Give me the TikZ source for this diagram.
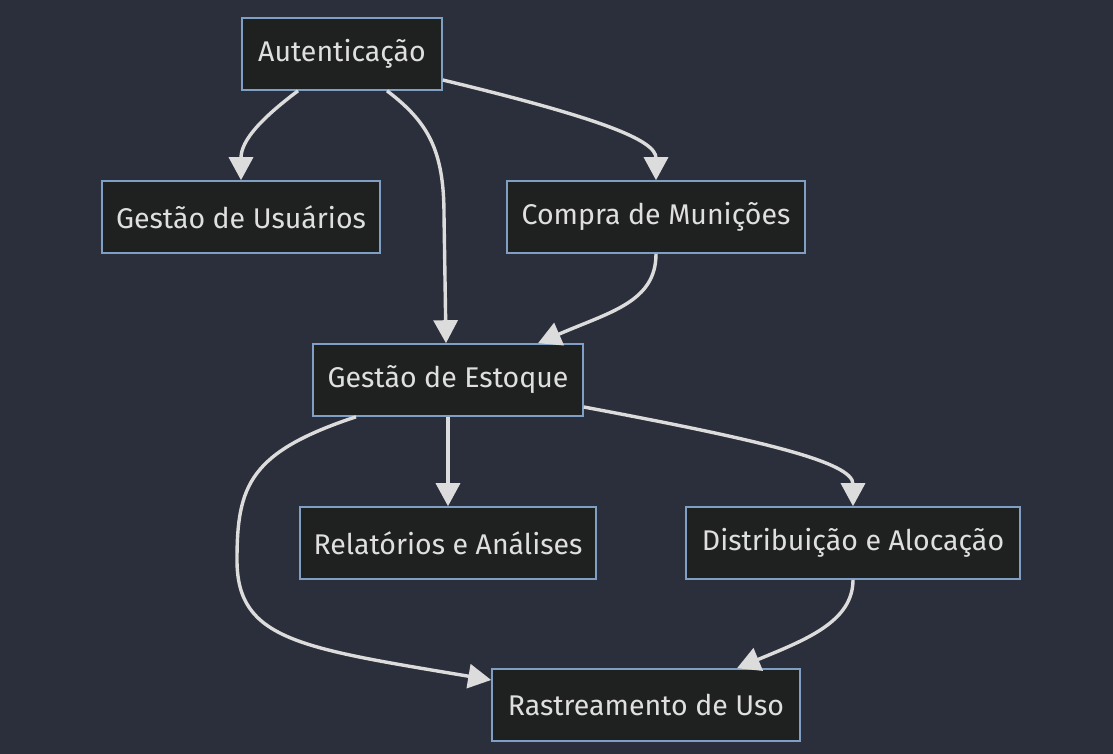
\documentclass[tikz,border=0pt]{standalone}
\usepackage{fontspec}
\setmainfont{Fira Sans}
\usetikzlibrary{arrows.meta,calc}
\definecolor{bgc}{HTML}{2B2F3B}
\definecolor{nodefill}{HTML}{1F2020}
\definecolor{nodeborder}{HTML}{7FA0C4}
\definecolor{txtc}{HTML}{E0DFDF}
\definecolor{linec}{HTML}{DCDCDC}
\tikzset{
  box/.style={draw=nodeborder, fill=nodefill, line width=1.6pt, inner sep=0pt,
    minimum height=72pt, text=txtc, font=\fontsize{28.5}{32}\selectfont},
  edge/.style={draw=linec, line width=3.4pt, -{Triangle[length=23pt,width=24pt]}}
}
\begin{document}
\begin{tikzpicture}[x=1pt,y=-1pt]
\fill[bgc] (0,0) rectangle (1113,754);
\useasboundingbox (0,0) rectangle (1113,754);
\node[box, minimum width=200pt] (aut) at (342,54) {Autenticação};
\node[box, minimum width=278pt] (gu) at (241,217) {Gestão de Usuários};
\node[box, minimum width=298pt] (cm) at (656,217) {Compra de Munições};
\node[box, minimum width=270pt] (ge) at (448,380) {Gestão de Estoque};
\node[box, minimum width=296pt] (ra) at (448,543) {Relatórios e Análises};
\node[box, minimum width=334pt] (da) at (853,543) {Distribuição e Alocação};
\node[box, minimum width=308pt] (ru) at (646,705) {Rastreamento de Uso};
% edges
\draw[edge] ($(aut.south)+(-44,0)$) .. controls (262,118) and (241,140) .. (gu.north);
\draw[edge] ($(aut.south)+(45,0)$) .. controls (428,122) and (444,150) .. (444,215) -- ($(ge.north)+(-2,0)$);
\draw[edge] ($(aut.east)+(0,26)$) .. controls (600,118) and (656,140) .. (cm.north);
\draw[edge] (cm.south) .. controls (656,302) and (610,312) .. ($(ge.north)+(90,0)$);
\draw[edge] (ge.south) -- (ra.north);
\draw[edge] ($(ge.east)+(0,27)$) .. controls (760,440) and (853,462) .. (da.north);
\draw[edge] ($(ge.south)+(-92,0)$) .. controls (250,452) and (237,485) .. (237,560) .. controls (237,640) and (300,648) .. ($(ru.west)+(0,-25)$);
\draw[edge] (da.south) .. controls (853,622) and (805,640) .. ($(ru.north)+(91,0)$);
\end{tikzpicture}
\end{document}
